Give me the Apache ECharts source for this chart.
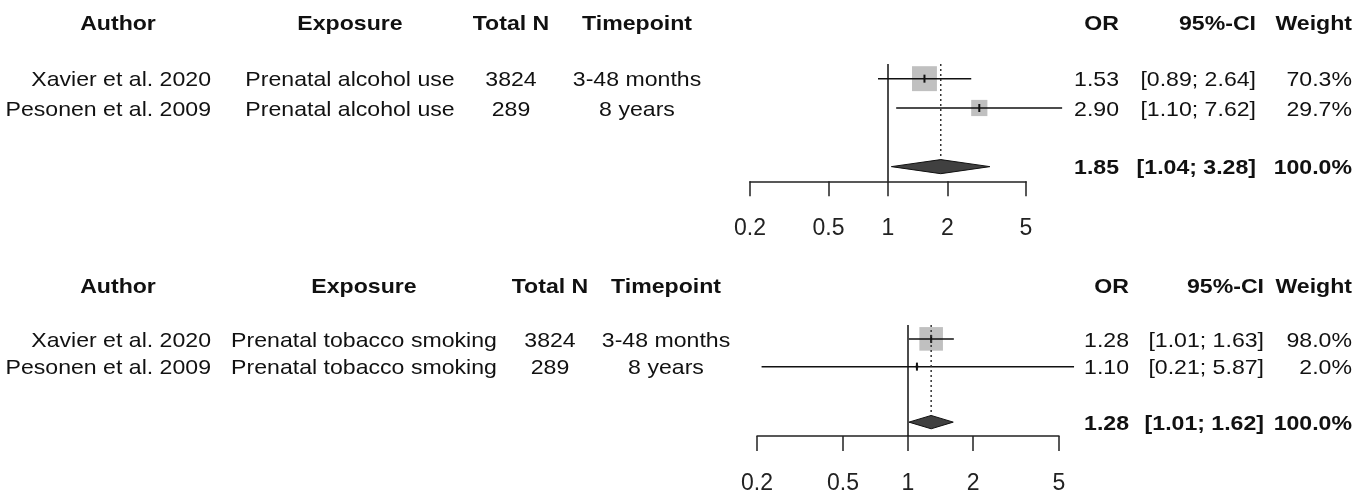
<!DOCTYPE html>
<html>
<head>
<meta charset="utf-8">
<script src="https://cdn.jsdelivr.net/npm/echarts@6/dist/echarts.min.js"></script>
<style>
  html, body { margin: 0; padding: 0; background: #fff; }
  #main { width: 1371px; height: 495px; }
</style>
</head>
<body>
<div id="main"></div>
<script>
// column headers and axis ticks
var headers = ['Author', 'Exposure', 'Total N', 'Timepoint', 'OR', '95%-CI', 'Weight'];
var tickLabels = [0.2, 0.5, 1, 2, 5];

// panel 1: prenatal alcohol use
var alcAuthor = ['Xavier et al. 2020', 'Pesonen et al. 2009'];
var alcExposure = ['Prenatal alcohol use', 'Prenatal alcohol use'];
var alcN = [3824, 289];
var alcTime = ['3-48 months', '8 years'];
var alcOR = [1.53, 2.90];
var alcLower = [0.89, 1.10];
var alcUpper = [2.64, 7.62];
var alcWeight = [70.3, 29.7];
var alcPooled = [1.85, 1.04, 3.28];

// panel 2: prenatal tobacco smoking
var tobAuthor = ['Xavier et al. 2020', 'Pesonen et al. 2009'];
var tobExposure = ['Prenatal tobacco smoking', 'Prenatal tobacco smoking'];
var tobN = [3824, 289];
var tobTime = ['3-48 months', '8 years'];
var tobOR = [1.28, 1.10];
var tobLower = [1.01, 0.21];
var tobUpper = [1.63, 5.87];
var tobWeight = [98.0, 2.0];
var tobPooled = [1.28, 1.01, 1.62];

var FONT = '"Liberation Sans", Arial, sans-serif';
var INK = '#111';
var headerRow = -0.94;
var pooledRow = 4;

var panels = [
    {author: alcAuthor, exposure: alcExposure, n: alcN, time: alcTime, or: alcOR,
     lower: alcLower, upper: alcUpper, weight: alcWeight, pooled: alcPooled},
    {author: tobAuthor, exposure: tobExposure, n: tobN, time: tobTime, or: tobOR,
     lower: tobLower, upper: tobUpper, weight: tobWeight, pooled: tobPooled}
];

// text column positions (pixels)
var columns = [
    {authorHead: 118, author: 211, exposure: 350, n: 511, time: 637, or: 1119, ci: 1256, weight: 1352},
    {authorHead: 118, author: 211, exposure: 364, n: 550, time: 666, or: 1129, ci: 1264, weight: 1352}
];

function fmtCI(lo, hi) {
    return '[' + lo.toFixed(2) + '; ' + hi.toFixed(2) + ']';
}

function textSeries(g) {
    var p = panels[g], cols = columns[g];
    var rows = [[0, headerRow]];
    p.or.forEach(function (v, i) { rows.push([0, i + 1]); });
    rows.push([0, pooledRow]);
    var total = p.weight.reduce(function (a, b) { return a + b; }, 0);
    return {
        type: 'custom', xAxisIndex: g, yAxisIndex: g, clip: false, silent: true,
        data: rows,
        renderItem: function (params, api) {
            var y = api.coord([0, api.value(1)])[1] + 2;
            var i = params.dataIndex;
            var cells, bold = false;
            if (i === 0) {
                bold = true;
                cells = [[headers[0], cols.authorHead, 'center'], [headers[1], cols.exposure, 'center'],
                         [headers[2], cols.n, 'center'], [headers[3], cols.time, 'center'],
                         [headers[4], cols.or, 'right'], [headers[5], cols.ci, 'right'],
                         [headers[6], cols.weight, 'right']];
            } else if (i <= p.or.length) {
                var k = i - 1;
                cells = [[p.author[k], cols.author, 'right'], [p.exposure[k], cols.exposure, 'center'],
                         [String(p.n[k]), cols.n, 'center'], [p.time[k], cols.time, 'center'],
                         [p.or[k].toFixed(2), cols.or, 'right'], [fmtCI(p.lower[k], p.upper[k]), cols.ci, 'right'],
                         [p.weight[k].toFixed(1) + '%', cols.weight, 'right']];
            } else {
                bold = true;
                cells = [[p.pooled[0].toFixed(2), cols.or, 'right'], [fmtCI(p.pooled[1], p.pooled[2]), cols.ci, 'right'],
                         [total.toFixed(1) + '%', cols.weight, 'right']];
            }
            return {
                type: 'group',
                children: cells.map(function (c) {
                    return {
                        type: 'text', x: c[1], y: y, scaleX: 1.1,
                        style: {text: c[0], align: c[2], verticalAlign: 'middle', fontSize: 21,
                                fontWeight: bold ? 'bold' : 'normal', fontFamily: FONT, fill: INK}
                    };
                })
            };
        }
    };
}

function forestSeries(g) {
    var p = panels[g];
    var wmax = Math.max.apply(null, p.weight);
    var data = p.or.map(function (v, i) { return [Math.log10(v), i + 1]; });
    data.push([Math.log10(p.pooled[0]), pooledRow]);
    return {
        type: 'custom', xAxisIndex: g, yAxisIndex: g, clip: false, silent: true,
        data: data,
        renderItem: function (params, api) {
            var i = params.dataIndex;
            var c = api.coord([api.value(0), api.value(1)]);
            var rowH = api.size([0, 1])[1];
            var kids = [];
            if (i < p.or.length) {
                var lo = api.coord([Math.log10(p.lower[i]), api.value(1)]);
                var hi = api.coord([Math.log10(p.upper[i]), api.value(1)]);
                var s = 0.85 * rowH * Math.sqrt(p.weight[i] / wmax);
                kids.push({type: 'rect', shape: {x: c[0] - s / 2, y: c[1] - s / 2, width: s, height: s},
                           style: {fill: '#c0c0c0'}});
                kids.push({type: 'line', shape: {x1: lo[0], y1: c[1], x2: hi[0], y2: c[1]},
                           style: {stroke: '#111', lineWidth: 1.5}});
                kids.push({type: 'line', shape: {x1: c[0], y1: c[1] - 4, x2: c[0], y2: c[1] + 4},
                           style: {stroke: '#111', lineWidth: 2}});
            } else {
                var h = 0.24 * rowH;
                var top = api.coord([0, 0.5])[1];
                var bottom = api.coord([0, 4.5])[1];
                var nullX = api.coord([Math.log10(1), 0])[0];
                var dl = api.coord([Math.log10(p.pooled[1]), api.value(1)]);
                var dh = api.coord([Math.log10(p.pooled[2]), api.value(1)]);
                kids.push({type: 'line', shape: {x1: c[0], y1: top, x2: c[0], y2: c[1] - h},
                           style: {stroke: '#333', lineWidth: 1.5, lineDash: [2, 3]}});
                kids.push({type: 'polygon',
                           shape: {points: [[dl[0], c[1]], [c[0], c[1] - h], [dh[0], c[1]], [c[0], c[1] + h]]},
                           style: {fill: '#404040', stroke: '#111', lineWidth: 1}});
                kids.push({type: 'line', shape: {x1: nullX, y1: top, x2: nullX, y2: bottom},
                           style: {stroke: '#111', lineWidth: 1.5}});
            }
            return {type: 'group', children: kids};
        }
    };
}

var tickLogs = tickLabels.map(function (v) { return Math.log10(v); });

function xAxisFor(g) {
    return {
        type: 'value', gridIndex: g,
        min: Math.log10(tickLabels[0]), max: Math.log10(tickLabels[tickLabels.length - 1]),
        splitLine: {show: false},
        axisLine: {show: true, lineStyle: {color: '#222', width: 1.5}},
        axisTick: {show: true, customValues: tickLogs, length: 15, lineStyle: {color: '#222', width: 1.5}},
        axisLabel: {
            customValues: tickLogs, margin: 36, fontSize: 23, color: '#222', fontFamily: FONT,
            formatter: function (v) { return String(+Math.pow(10, v).toPrecision(2)); }
        }
    };
}

function yAxisFor(g) {
    return {type: 'value', gridIndex: g, min: 0.5, max: 4.5, inverse: true, show: false};
}

var chart = echarts.init(document.getElementById('main'));
chart.setOption({
    backgroundColor: '#fff',
    animation: false,
    grid: [
        {left: 750, width: 276, top: 64, height: 117.3},
        {left: 757, width: 302, top: 325, height: 113.2}
    ],
    xAxis: [xAxisFor(0), xAxisFor(1)],
    yAxis: [yAxisFor(0), yAxisFor(1)],
    series: [forestSeries(0), textSeries(0), forestSeries(1), textSeries(1)]
});
</script>
</body>
</html>
